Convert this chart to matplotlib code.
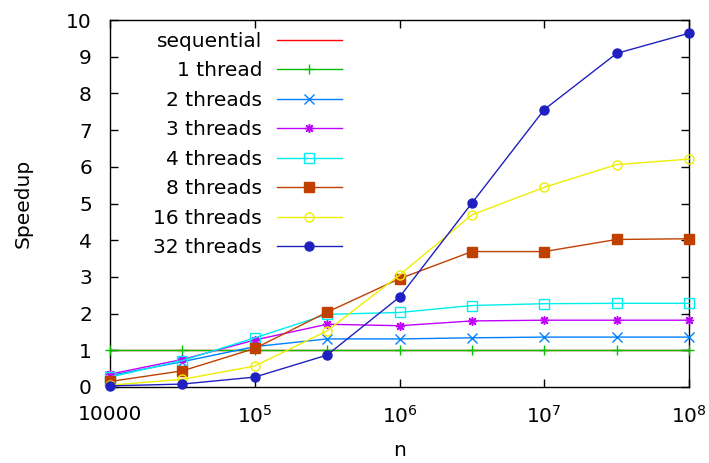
import math
import matplotlib
matplotlib.use("Agg")
import matplotlib.pyplot as plt
from matplotlib.ticker import FixedLocator, FuncFormatter, NullLocator

plt.rcParams['font.family'] = ['DejaVu Sans']
plt.rcParams['mathtext.fontset'] = 'dejavusans'

# problem sizes n = 10^4 ... 10^8 in half decades
n = [1e4, 10**4.5, 1e5, 10**5.5, 1e6, 10**6.5, 1e7, 10**7.5, 1e8]

sequential = [1.0, 1.0, 1.0, 1.0, 1.0, 1.0, 1.0, 1.0, 1.0]
thread1 = [1.0, 1.0, 1.0, 1.0, 1.0, 1.0, 1.0, 1.0, 1.0]
threads2 = [0.31, 0.69, 1.10, 1.31, 1.31, 1.34, 1.36, 1.36, 1.36]
threads3 = [0.35, 0.75, 1.28, 1.71, 1.67, 1.80, 1.82, 1.82, 1.82]
threads4 = [0.27, 0.72, 1.34, 1.98, 2.03, 2.22, 2.27, 2.28, 2.28]
threads8 = [0.15, 0.44, 1.05, 2.04, 2.95, 3.69, 3.69, 4.02, 4.04]
threads16 = [0.05, 0.21, 0.57, 1.53, 3.05, 4.69, 5.44, 6.06, 6.21]
threads32 = [0.03, 0.08, 0.27, 0.87, 2.45, 5.01, 7.56, 9.09, 9.64]

labels = ['sequential', '1 thread', '2 threads', '3 threads', '4 threads',
          '8 threads', '16 threads', '32 threads']
series = [sequential, thread1, threads2, threads3, threads4,
          threads8, threads16, threads32]
colors = ['#ff0000', '#00c000', '#0080ff', '#c000ff', '#00eeee',
          '#c04000', '#eeee00', '#2020c0']
markers = [None, '+', 'x', (8, 2, 0), 's', 's', 'o', 'o']
filled = [False, True, True, True, False, True, False, True]

fig = plt.figure(figsize=(7.09, 4.63), dpi=100)
ax = fig.add_axes([110/709, 1 - 387/463, 579/709, 367/463])

for i, y in enumerate(series):
    c = colors[i]
    ax.plot(n, y, color=c, lw=1.0, marker=markers[i], markersize=6.5,
            markeredgewidth=1.0, markeredgecolor=c,
            markerfacecolor=c if filled[i] else 'none',
            label=labels[i], clip_on=False, zorder=3 + i)

ax.set_xscale('log')
ax.set_xlim(1e4, 1e8)
ax.set_ylim(0, 10)
ax.xaxis.set_major_locator(FixedLocator([1e4, 1e5, 1e6, 1e7, 1e8]))
ax.xaxis.set_minor_locator(NullLocator())
ax.xaxis.set_major_formatter(FuncFormatter(
    lambda v, p: '10000' if abs(v - 1e4) < 1 else r'$10^{%d}$' % round(math.log10(v))))
ax.set_yticks(range(0, 11))

ax.tick_params(which='both', direction='in', top=True, right=True,
               length=6, width=1, labelsize=14.5)
ax.tick_params(axis='x', pad=13)
ax.tick_params(axis='y', pad=13)
for s in ax.spines.values():
    s.set_linewidth(1)

ax.set_xlabel('n', fontsize=14.5, labelpad=10)
ax.set_ylabel('Speedup', fontsize=14.5, labelpad=24)

leg = ax.legend(loc='upper right', bbox_to_anchor=(0.40, 0.968),
                frameon=False, markerfirst=False, fontsize=14.5,
                handlelength=3.2, handletextpad=0.75, labelspacing=0.52,
                borderaxespad=0, borderpad=0)

fig.savefig('out.png', dpi=100)
